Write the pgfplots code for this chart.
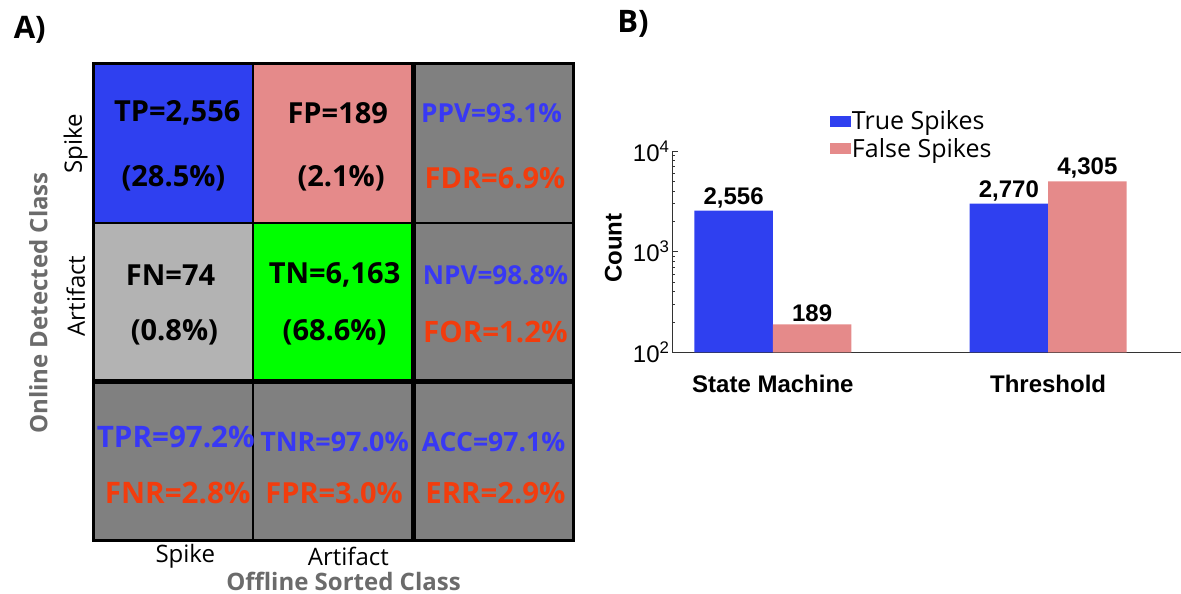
\documentclass[border=0pt]{standalone}
\usepackage{pgfplots}
\pgfplotsset{compat=1.18}
\usepackage{pgfplotstable}
\usepackage{fontspec}
\setmainfont{Open Sans}
\newfontfamily\arial{Liberation Sans}
\definecolor{cblue}{HTML}{2F40F0}
\definecolor{cpink}{HTML}{E58A8A}
\definecolor{cgray}{HTML}{808080}
\definecolor{clgray}{HTML}{B3B3B3}
\definecolor{cgreen}{HTML}{00FF00}
\definecolor{tblue}{HTML}{3838F5}
\definecolor{tred}{HTML}{F23C0D}
\definecolor{lgray}{HTML}{6B6B6B}

\pgfplotstableread{
x y label
1 2556 2,556
2 3000 2,770
}\truetab
\pgfplotstableread{
x y label
1 189 189
2 4990 4,305
}\falsetab

\newcommand{\cf}[1]{\fontsize{#1}{#1}\selectfont\bfseries}
\begin{document}
\begin{tikzpicture}
\useasboundingbox (0pt,0pt) rectangle (1181pt,594pt);
% ---------------- Panel A ----------------
\begin{axis}[
  at={(93.5pt,53pt)}, anchor=south west,
  scale only axis, width=479.5pt, height=477.5pt,
  xmin=0, xmax=3, ymin=0, ymax=3,
  hide axis, clip=false,
]
\addplot[fill=cblue, draw=black, line width=2pt] coordinates {(0,2)(1,2)(1,3)(0,3)} --cycle;
\addplot[fill=cpink, draw=black, line width=2pt] coordinates {(1,2)(2,2)(2,3)(1,3)} --cycle;
\addplot[fill=cgray, draw=black, line width=2pt] coordinates {(2,2)(3,2)(3,3)(2,3)} --cycle;
\addplot[fill=clgray, draw=black, line width=2pt] coordinates {(0,1)(1,1)(1,2)(0,2)} --cycle;
\addplot[fill=cgreen, draw=black, line width=2pt] coordinates {(1,1)(2,1)(2,2)(1,2)} --cycle;
\addplot[fill=cgray, draw=black, line width=2pt] coordinates {(2,1)(3,1)(3,2)(2,2)} --cycle;
\addplot[fill=cgray, draw=black, line width=2pt] coordinates {(0,0)(1,0)(1,1)(0,1)} --cycle;
\addplot[fill=cgray, draw=black, line width=2pt] coordinates {(1,0)(2,0)(2,1)(1,1)} --cycle;
\addplot[fill=cgray, draw=black, line width=2pt] coordinates {(2,0)(3,0)(3,1)(2,1)} --cycle;
\addplot[draw=black, line width=3pt] coordinates {(0,0)(3,0)(3,3)(0,3)} --cycle;
\addplot[draw=black, line width=5pt] coordinates {(2,0)(2,3)};
\addplot[draw=black, line width=5pt] coordinates {(0,1)(3,1)};
% cell texts
\node[font=\cf{29}] at (axis cs:0.524,2.689) {TP=2,556};
\node[font=\cf{29}] at (axis cs:0.500,2.281) {(28.5\%)};
\node[font=\cf{29}] at (axis cs:1.528,2.689) {FP=189};
\node[font=\cf{29}] at (axis cs:1.549,2.281) {(2.1\%)};
\node[font=\cf{26.2}, text=tblue] at (axis cs:2.491,2.689) {PPV=93.1\%};
\node[font=\cf{29}, text=tred] at (axis cs:2.512,2.281) {FDR=6.9\%};
\node[font=\cf{29}] at (axis cs:0.482,1.671) {FN=74};
\node[font=\cf{29}] at (axis cs:0.506,1.313) {(0.8\%)};
\node[font=\cf{29}] at (axis cs:1.508,1.671) {TN=6,163};
\node[font=\cf{29}] at (axis cs:1.508,1.313) {(68.6\%)};
\node[font=\cf{26.1}, text=tblue] at (axis cs:2.515,1.671) {NPV=98.8\%};
\node[font=\cf{29.5}, text=tred] at (axis cs:2.515,1.313) {FOR=1.2\%};
\node[font=\cf{29.6}, text=tblue] at (axis cs:0.515,0.655) {TPR=97.2\%};
\node[font=\cf{29.6}, text=tred] at (axis cs:0.527,0.302) {FNR=2.8\%};
\node[font=\cf{26.9}, text=tblue] at (axis cs:1.508,0.624) {TNR=97.0\%};
\node[font=\cf{29}, text=tred] at (axis cs:1.505,0.302) {FPR=3.0\%};
\node[font=\cf{26.6}, text=tblue] at (axis cs:2.503,0.624) {ACC=97.1\%};
\node[font=\cf{29.3}, text=tred] at (axis cs:2.515,0.302) {ERR=2.9\%};
\end{axis}
% labels of panel A
\node[font=\fontsize{24}{28}\selectfont] at (185.3pt,38pt) {Spike};
\node[font=\fontsize{24}{28}\selectfont] at (348.4pt,38pt) {Artifact};
\node[font=\fontsize{24}{28}\selectfont, rotate=90] at (75.7pt,450pt) {Spike};
\node[font=\fontsize{24}{28}\selectfont, rotate=90] at (75.7pt,298pt) {Artifact};
\node[font=\fontsize{24}{28}\selectfont\bfseries, text=lgray] at (343.5pt,13pt) {Offline Sorted Class};
\node[font=\fontsize{24}{28}\selectfont\bfseries, text=lgray, rotate=90] at (38.3pt,291pt) {Online Detected Class};
\node[font=\fontsize{31}{36}\selectfont\bfseries] at (29.7pt,564pt) {A)};
\node[font=\fontsize{31}{36}\selectfont\bfseries] at (633pt,570pt) {B)};
% ---------------- Panel B ----------------
\begin{axis}[
  at={(672pt,241.7pt)}, anchor=south west,
  scale only axis, width=509pt, height=201.3pt,
  ymode=log, ymin=100, ymax=10000, log origin=infty,
  xmin=0.6334, xmax=2.483,
  axis lines*=left,
  axis line style={black!80, line width=1pt},
  ybar=0pt, bar width=78.5pt,
  xtick={1,2}, xticklabels={State Machine, Threshold},
  xtick style={draw=none},
  xticklabel style={font=\arial\bfseries\fontsize{24}{28}\selectfont, yshift=-19pt},
  ytick={100,1000,10000},
  yticklabels={10\textsuperscript{2},10\textsuperscript{3},10\textsuperscript{4}},
  yticklabel style={font=\arial\fontsize{24}{28}\selectfont, xshift=1pt},
  tick align=inside, major tick length=6pt, minor tick length=3pt,
  tick style={black!80, line width=0.8pt},
  ylabel={Count},
  ylabel style={font=\arial\bfseries\fontsize{24}{28}\selectfont, at={(axis description cs:-0.115,0.517)}, anchor=center},
  nodes near coords, point meta=explicit symbolic,
  nodes near coords style={font=\arial\bfseries\fontsize{24}{28}\selectfont, anchor=south, inner sep=0pt, yshift=2.5pt},
  legend style={draw=none, fill=none, at={(axis description cs:0.31,1.205)}, anchor=north west,
     font=\fontsize{25}{29}\selectfont, inner sep=0pt, row sep=5pt,
     nodes={inner sep=1pt}},
  legend image code/.code={\fill[#1] (0pt,-5.5pt) rectangle (21pt,5.5pt);},
  legend cell align=left,
]
\addplot[fill=cblue, draw=none] table[x=x, y=y, meta=label] {\truetab};
\addplot[fill=cpink, draw=none] table[x=x, y=y, meta=label] {\falsetab};
\legend{True Spikes, False Spikes}
\end{axis}
\end{tikzpicture}
\end{document}
